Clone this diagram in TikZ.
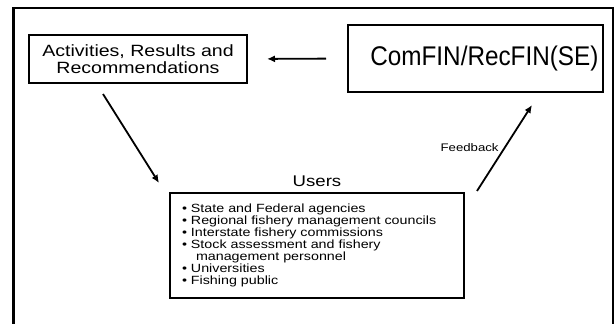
\documentclass[tikz,border=0pt]{standalone}
\usepackage{fontspec}
\setmainfont{Liberation Sans}[FakeStretch=1.2]
\newfontfamily\narrowfont{Liberation Sans}[FakeStretch=0.9]
\usetikzlibrary{positioning,arrows.meta}

\tikzset{
  box/.style={draw,line width=2pt,inner sep=0pt,align=center},
  arr/.style={line width=1.8pt,-{Latex[length=8pt,width=7pt]}}
}

\begin{document}
\begin{tikzpicture}[x=1pt,y=-1pt]
	\useasboundingbox (0,0) rectangle (614,324);
	\draw[line width=2.5pt] (13.5,324) -- (13.5,8) -- (613,8) -- (613,324);
	
	\node[box,minimum width=218pt,minimum height=48pt,font=\fontsize{16.3}{17}\selectfont] (activities) at (138,59) {Activities, Results and\\Recommendations};
	\node[box,minimum width=255pt,minimum height=67pt,text width=246pt,align=right,inner xsep=4.5pt,font=\narrowfont\fontsize{27}{30}\selectfont] (comfin) at (475.5,58.5) {ComFIN/RecFIN(SE)};
	\node[box,minimum width=294pt,minimum height=105pt,text width=270pt,align=left,font=\fontsize{11.9}{12.1}\selectfont] (users) at (317,245.5) {%
		\textbullet\ State and Federal agencies\\
		\textbullet\ Regional fishery management councils\\
		\textbullet\ Interstate fishery commissions\\
		\textbullet\ Stock assessment and fishery\\
		\hspace*{14pt}management personnel\\
		\textbullet\ Universities\\
		\textbullet\ Fishing public};
	\node[inner sep=0pt,font=\fontsize{15.5}{18}\selectfont,above=4.7pt of users] (userslabel) {Users};
	
	\coordinate (downstart) at ([shift={(-35,10)}]activities.south);
	\coordinate (downend) at ([shift={(-10,-9)}]users.north west);
	\coordinate (fbstart) at ([shift={(12,-1)}]users.north east);
	\coordinate (fbend) at ([shift={(56.5,12)}]comfin.south);
	
	\draw[arr,shorten <=21pt,shorten >=19pt] (comfin.west) -- (activities.east);
	\draw[arr] (downstart) -- (downend);
	\draw[arr] (fbstart) -- node[pos=0.5,left=5pt,inner sep=0pt,font=\fontsize{11}{13}\selectfont] (fblabel) {Feedback} (fbend);
\end{tikzpicture}
\end{document}
